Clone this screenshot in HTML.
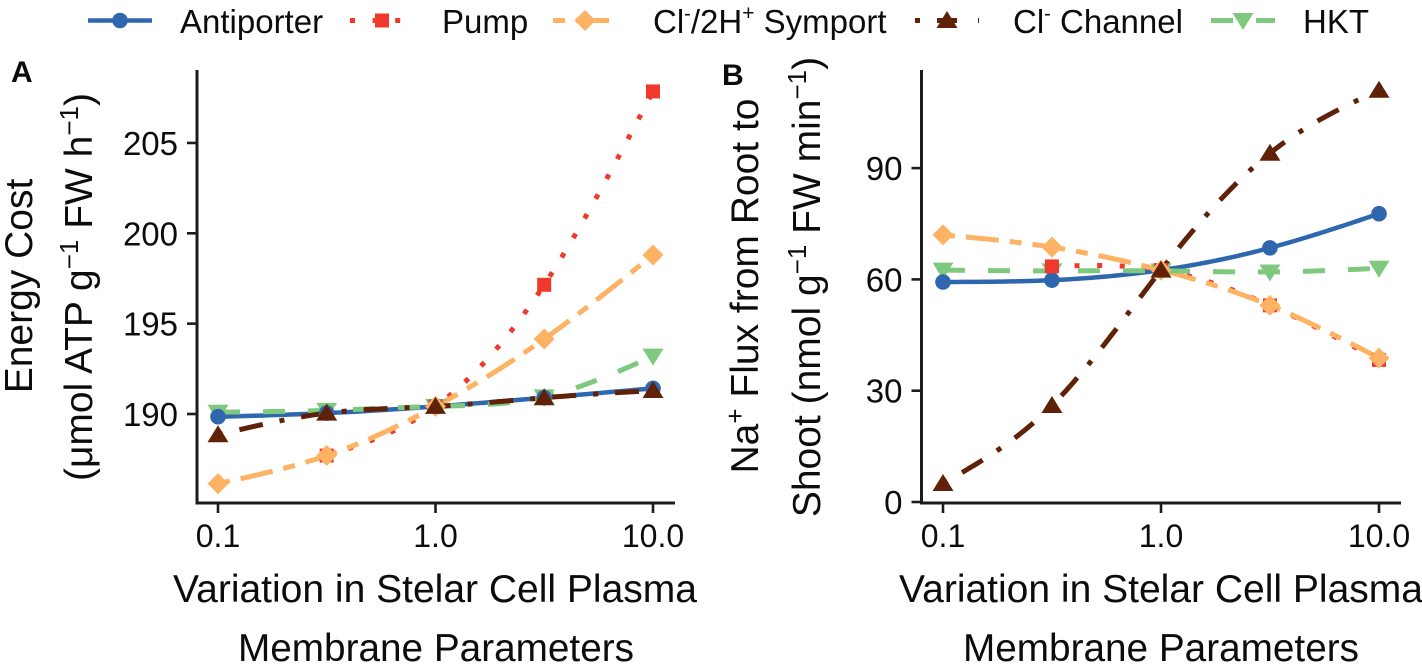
<!DOCTYPE html>
<html lang="en">
<head>
<meta charset="utf-8">
<title>Energy cost and Na+ flux charts</title>
<style>
html,body{margin:0;padding:0;background:#fff;width:1422px;height:665px;overflow:hidden}
svg{display:block}
text{font-family:"Liberation Sans",sans-serif;fill:#0c0c0c}
</style>
</head>
<body>
<svg id="chart" xmlns="http://www.w3.org/2000/svg" width="1422" height="665" viewBox="0 0 1422 665">
  <g id="legend"></g>
  <g font-size="33">
    <text x="180" y="33">Antiporter</text>
    <text x="442" y="33">Pump</text>
    <text x="653" y="33">Cl<tspan font-size="20" dy="-13">-</tspan><tspan dy="13">/2H</tspan><tspan font-size="21" dy="-13">+</tspan><tspan dy="13"> Symport</tspan></text>
    <text x="1013" y="33">Cl<tspan font-size="20" dy="-13">-</tspan><tspan dy="13"> Channel</tspan></text>
    <text x="1303" y="33">HKT</text>
  </g>

  <text x="11" y="82" font-size="30" font-weight="bold">A</text>
  <text x="722" y="85" font-size="30" font-weight="bold">B</text>

  <g id="panelA"></g>
  <g id="panelB"></g>

  <g>
    <text transform="translate(32,286) rotate(-90)" text-anchor="middle" font-size="39">Energy Cost</text>
    <text transform="translate(92,287) rotate(-90)" text-anchor="middle" font-size="39">(μmol ATP g<tspan font-size="26" dy="-14">−1</tspan><tspan dy="14"> FW h</tspan><tspan font-size="26" dy="-14">−1</tspan><tspan dy="14">)</tspan></text>
    <text transform="translate(758,286) rotate(-90)" text-anchor="middle" font-size="39">Na<tspan font-size="26" dy="-14">+</tspan><tspan dy="14"> Flux from Root to</tspan></text>
    <text transform="translate(820,287) rotate(-90)" text-anchor="middle" font-size="39">Shoot (nmol g<tspan font-size="26" dy="-14">−1</tspan><tspan dy="14"> FW min</tspan><tspan font-size="26" dy="-14">−1</tspan><tspan dy="14">)</tspan></text>
    <text x="435" y="602" text-anchor="middle" font-size="39" textLength="524" lengthAdjust="spacingAndGlyphs">Variation in Stelar Cell Plasma</text>
    <text x="436" y="661" text-anchor="middle" font-size="39" textLength="396" lengthAdjust="spacingAndGlyphs">Membrane Parameters</text>
    <text x="1161" y="602" text-anchor="middle" font-size="39" textLength="524" lengthAdjust="spacingAndGlyphs">Variation in Stelar Cell Plasma</text>
    <text x="1161" y="661" text-anchor="middle" font-size="39" textLength="396" lengthAdjust="spacingAndGlyphs">Membrane Parameters</text>
  </g>
</svg>
<script>
// ---- Data ----
const categories = [0.1, 0.316, 1, 3.16, 10];
const xTickValues = [0.1, 1, 10];
const xTickLabels = ["0.1", "1.0", "10.0"];

const yTicksA = [190, 195, 200, 205];
const yTicksB = [0, 30, 60, 90];

const antiporterA = [189.85, 190.05, 190.42, 190.9, 191.42];
const pumpA       = [null, 187.7, 190.42, 197.15, 207.85];
const symportA    = [186.15, 187.7, 190.42, 194.15, 198.8];
const channelA    = [188.85, 190.05, 190.42, 190.9, 191.3];
const hktA        = [190.1, 190.2, 190.42, 190.95, 193.2];

const antiporterB = [59.3, 59.8, 62.5, 68.5, 77.7];
const pumpB       = [null, 63.5, 62.5, 53, 38.3];
const symportB    = [72, 68.7, 62.5, 53, 38.8];
const channelB    = [5, 26, 62.5, 94, 111];
const hktB        = [62.5, 62.3, 62.3, 62, 63];

// ---- Styles ----
const NS = "http://www.w3.org/2000/svg";
const COLORS = {antiporter:"#2f67ae", pump:"#f0382c", symport:"#fdb264", channel:"#5f2208", hkt:"#7fc97f"};
const DASH = {antiporter:"none", pump:"5 17.6", symport:"12 11 33 11", channel:"5 17 24 17", hkt:"22 23"};
const KEY_DASH = {antiporter:"none", pump:"5 17.6", symport:"12 11 33 11", channel:"5 17 20 21 5", hkt:"22 23"};
const AXIS = "#1c1c1c";

// ---- Scales ----
const xA = v => 218 + (Math.log10(v) + 1) * 217.5;
const xB = v => 943 + (Math.log10(v) + 1) * 218;
const yA = v => 414 - (v - 190) * 18.07;
const yB = v => 502 - v * 3.71;

function make(parent, tag, attrs) {
  const el = document.createElementNS(NS, tag);
  for (const k in attrs) el.setAttribute(k, attrs[k]);
  parent.appendChild(el);
  return el;
}

// Natural cubic spline through pixel points
function curvePath(px, py) {
  const n = px.length;
  const m = new Array(n).fill(0);
  const a = new Array(n).fill(0), b = new Array(n).fill(0), c = new Array(n).fill(0), d = new Array(n).fill(0);
  b[0] = 1; b[n - 1] = 1;
  for (let i = 1; i < n - 1; i++) {
    const h0 = px[i] - px[i - 1], h1 = px[i + 1] - px[i];
    a[i] = h0; b[i] = 2 * (h0 + h1); c[i] = h1;
    d[i] = 6 * ((py[i + 1] - py[i]) / h1 - (py[i] - py[i - 1]) / h0);
  }
  for (let i = 1; i < n; i++) {
    const w = a[i] / b[i - 1];
    b[i] -= w * c[i - 1];
    d[i] -= w * d[i - 1];
  }
  m[n - 1] = d[n - 1] / b[n - 1];
  for (let i = n - 2; i >= 0; i--) m[i] = (d[i] - c[i] * m[i + 1]) / b[i];
  let out = "M" + px[0].toFixed(2) + " " + py[0].toFixed(2);
  for (let i = 0; i < n - 1; i++) {
    const h = px[i + 1] - px[i];
    for (let s = 1; s <= 24; s++) {
      const t = s / 24, u = 1 - t;
      const x = px[i] + t * h;
      const y = u * py[i] + t * py[i + 1] + ((u * u * u - u) * m[i] + (t * t * t - t) * m[i + 1]) * h * h / 6;
      out += "L" + x.toFixed(2) + " " + y.toFixed(2);
    }
  }
  return out;
}

function marker(parent, kind, x, y) {
  const col = COLORS[kind];
  let el;
  if (kind === "antiporter") {
    el = make(parent, "circle", {cx:x, cy:y, r:7.8, fill:col});
  } else if (kind === "pump") {
    el = make(parent, "rect", {x:x - 7, y:y - 7, width:14, height:14, fill:col});
  } else if (kind === "symport") {
    el = make(parent, "polygon", {points:[x,y-10.5,x+10.5,y,x,y+10.5,x-10.5,y].join(" "), fill:col});
  } else if (kind === "channel") {
    el = make(parent, "polygon", {points:[x,y-9.5,x+10.5,y+7.5,x-10.5,y+7.5].join(" "), fill:col});
  } else {
    el = make(parent, "polygon", {points:[x,y+9.5,x+10.5,y-7.5,x-10.5,y-7.5].join(" "), fill:col});
  }
  return el;
}

function drawPanel(id, sx, sy, yTicks, series, axisX, axisRight) {
  const g = document.getElementById(id);
  const axisBottom = 503;

  // lines
  ["antiporter", "pump", "symport", "hkt", "channel"].forEach(function (kind) {
    const px = [], py = [];
    categories.forEach(function (c, i) {
      if (series[kind][i] !== null) { px.push(sx(c)); py.push(sy(series[kind][i])); }
    });
    const line = make(g, "path", {d:curvePath(px, py), fill:"none", stroke:COLORS[kind], "stroke-width":kind === "antiporter" ? 4.5 : 5});
    if (DASH[kind] !== "none") line.setAttribute("stroke-dasharray", DASH[kind]);
    
    
  });

  // markers
  ["hkt", "antiporter", "pump", "symport", "channel"].forEach(function (kind) {
    categories.forEach(function (c, i) {
      if (series[kind][i] === null) return;
      const m = marker(g, kind, sx(c), sy(series[kind][i]));
      
      
    });
  });

  // axes
  const yAxis = make(g, "line", {x1:axisX, x2:axisX, y1:70, y2:axisBottom + 1.5, stroke:AXIS, "stroke-width":3});
  
  
  const xAxis = make(g, "line", {x1:axisX, x2:axisRight, y1:axisBottom, y2:axisBottom, stroke:AXIS, "stroke-width":3});
  
  

  // x ticks
  xTickValues.forEach(function (v, i) {
    const x = sx(v);
    const t = make(g, "line", {x1:x, x2:x, y1:axisBottom, y2:axisBottom + 10, stroke:AXIS, "stroke-width":2.6});
    
    
    const lab = make(g, "text", {x:x, y:547, "text-anchor":"middle", "font-size":32});
    lab.textContent = xTickLabels[i];
    
    
  });

  // y ticks
  yTicks.forEach(function (v) {
    const y = sy(v);
    const t = make(g, "line", {x1:axisX - 10, x2:axisX, y1:y, y2:y, stroke:AXIS, "stroke-width":2.6});
    
    
    const lab = make(g, "text", {x:axisX - 19, y:y + 12, "text-anchor":"end", "font-size":33});
    lab.textContent = String(v);
    
    
  });
}

drawPanel("panelA", xA, yA, yTicksA,
  {antiporter:antiporterA, pump:pumpA, symport:symportA, channel:channelA, hkt:hktA}, 197, 675);
drawPanel("panelB", xB, yB, yTicksB,
  {antiporter:antiporterB, pump:pumpB, symport:symportB, channel:channelB, hkt:hktB}, 921.5, 1401);

// ---- Legend keys ----
const legendKinds = ["antiporter", "pump", "symport", "channel", "hkt"];
const legendCenters = [120, 382, 585, 947, 1243];
const legendGroup = document.getElementById("legend");
legendKinds.forEach(function (kind, i) {
  const cx = legendCenters[i];
  const k = make(legendGroup, "line", {x1:cx - 32, x2:cx + 32, y1:20.5, y2:20.5, stroke:COLORS[kind], "stroke-width":kind === "antiporter" ? 4.5 : 5});
  if (KEY_DASH[kind] !== "none") k.setAttribute("stroke-dasharray", KEY_DASH[kind]);
  
  
  const m = marker(legendGroup, kind, cx, 20.5);
  
  
});
</script>
</body>
</html>
